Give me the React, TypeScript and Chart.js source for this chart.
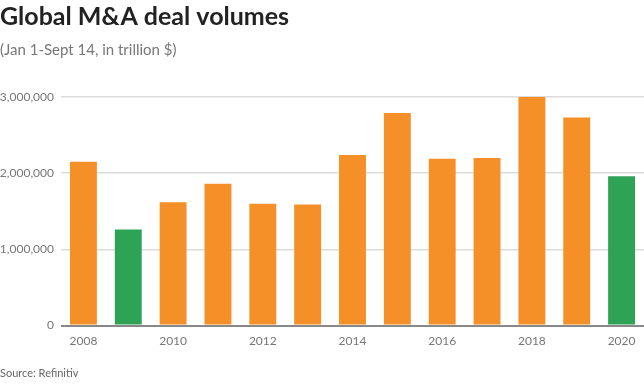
import React, { useEffect, useRef } from "react";
import { Chart, registerables } from "chart.js";

Chart.register(...registerables);

const years = ["2008","2009","2010","2011","2012","2013","2014","2015","2016","2017","2018","2019","2020"];
const volumes = [2150000,1260000,1620000,1860000,1600000,1590000,2240000,2790000,2190000,2200000,3000000,2730000,1960000];
const highlighted = ["2009","2020"];
const yTicks = [0,1000000,2000000,3000000];

const titleText = "Global M&A deal volumes";
const subtitleText = "(Jan 1-Sept 14, in trillion $)";
const sourceText = "Source: Refinitiv";

const ORANGE = "#F58F28";
const GREEN = "#2EA356";
const FONT = "Lato, 'Source Sans Pro', sans-serif";

export default function App() {
  const ref = useRef<HTMLCanvasElement | null>(null);
  useEffect(() => {
    document.body.style.margin = "0";
    const textPlugin = {
      id: "texts",
      afterDraw(chart: any) {
        const c = chart.ctx;
        c.save();
        c.textAlign = "left";
        c.textBaseline = "alphabetic";
        c.fillStyle = "#222";
        c.font = `bold 25px ${FONT}`;
        c.fillText(titleText, 0, 25);
        c.fillStyle = "#777";
        c.font = `15px ${FONT}`;
        c.fillText(subtitleText, 0, 55);
        c.font = `11px ${FONT}`;
        c.fillStyle = "#666";
        c.fillText(sourceText, 0, 377);
        c.restore();
      },
    };
    const chart = new Chart(ref.current as HTMLCanvasElement, {
      type: "bar",
      data: {
        labels: years,
        datasets: [
          {
            data: volumes,
            backgroundColor: years.map((y) => (highlighted.includes(y) ? GREEN : ORANGE)),
            categoryPercentage: 0.6,
            barPercentage: 1,
          },
        ],
      },
      options: {
        animation: false,
        responsive: false,
        layout: { padding: { top: 97, bottom: 28, left: 0, right: 0 } },
        plugins: { legend: { display: false }, tooltip: { enabled: false } },
        scales: {
          x: {
            grid: { display: false, drawTicks: false },
            border: { display: false },
            ticks: {
              autoSkip: false,
              maxRotation: 0,
              padding: 8,
              color: "#777",
              font: { family: FONT, size: 12 },
              callback: (_v: any, i: number) => (i % 2 === 0 ? years[i] : ""),
            },
          },
          y: {
            min: 0,
            max: 3000000,
            afterBuildTicks: (axis: any) => {
              axis.ticks = yTicks.map((v) => ({ value: v }));
            },
            afterFit: (axis: any) => {
              axis.width = 61;
            },
            grid: {
              drawTicks: false,
              color: (ctx: any) => (ctx.tick && ctx.tick.value === 0 ? "#888" : "#dcdcdc"),
              lineWidth: (ctx: any) => (ctx.tick && ctx.tick.value === 0 ? 2 : 1.5),
            },
            border: { display: false },
            ticks: {
              padding: 7,
              color: "#777",
              font: { family: FONT, size: 12 },
              callback: (v: any) => Number(v).toLocaleString("en-US"),
            },
          },
        },
      },
      plugins: [textPlugin],
    });
    return () => chart.destroy();
  }, []);
  return (
    <div style={{ position: "fixed", left: 0, top: 0, width: 644, height: 384, background: "#fff" }}>
      <canvas ref={ref} width={644} height={384} style={{ width: 644, height: 384 }} />
    </div>
  );
}
